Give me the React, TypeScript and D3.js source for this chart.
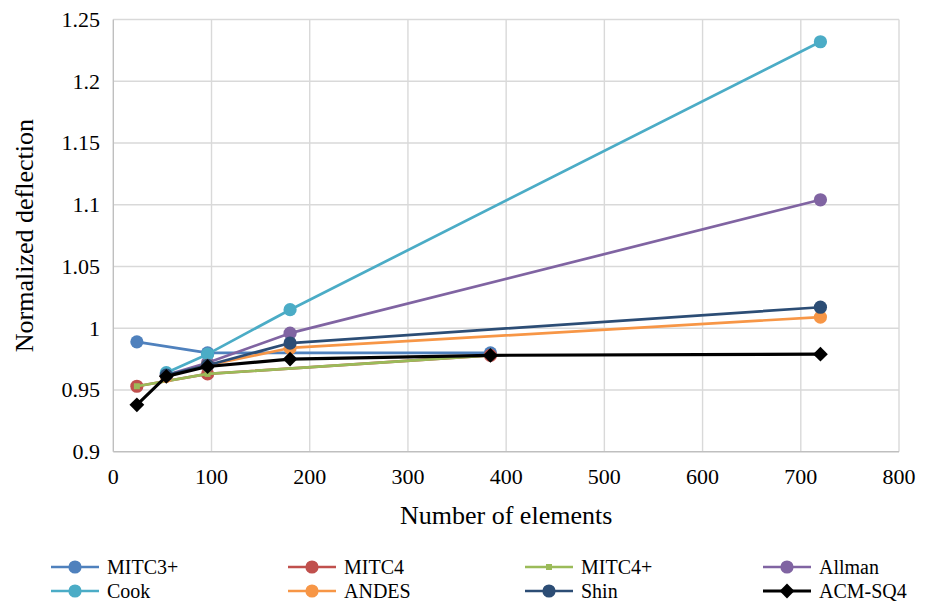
import React from "react";
import * as d3 from "d3";

const xTicks = [0, 100, 200, 300, 400, 500, 600, 700, 800];
const yTicks = [0.9, 0.95, 1, 1.05, 1.1, 1.15, 1.2, 1.25];
const yTickLabels = ["0.9", "0.95", "1", "1.05", "1.1", "1.15", "1.2", "1.25"];

const seriesNames = ["MITC3+", "MITC4", "MITC4+", "Allman", "Cook", "ANDES", "Shin", "ACM-SQ4"];
const seriesColors = ["#4F81BD", "#C0504D", "#9BBB59", "#8064A2", "#4BACC6", "#F79646", "#2C4D75", "#000000"];
const seriesMarkers = ["circle", "circle", "square", "circle", "circle", "circle", "circle", "diamond"];

const mitc3pX = [24, 96, 384];
const mitc3pY = [0.989, 0.98, 0.98];
const mitc4X = [24, 96, 384];
const mitc4Y = [0.953, 0.963, 0.978];
const mitc4pX = [24, 96, 384];
const mitc4pY = [0.953, 0.963, 0.978];
const allmanX = [54, 96, 180, 720];
const allmanY = [0.962, 0.972, 0.996, 1.104];
const cookX = [54, 96, 180, 720];
const cookY = [0.964, 0.979, 1.015, 1.232];
const andesX = [54, 96, 180, 720];
const andesY = [0.961, 0.97, 0.984, 1.009];
const shinX = [54, 96, 180, 720];
const shinY = [0.962, 0.97, 0.988, 1.017];
const acmX = [24, 54, 96, 180, 384, 720];
const acmY = [0.938, 0.961, 0.969, 0.975, 0.978, 0.979];

const seriesX = [mitc3pX, mitc4X, mitc4pX, allmanX, cookX, andesX, shinX, acmX];
const seriesY = [mitc3pY, mitc4Y, mitc4pY, allmanY, cookY, andesY, shinY, acmY];

const W = 932;
const H = 604;
const left = 113.3;
const right = 899;
const top = 19.5;
const bottom = 451.7;
const FONT = "Liberation Serif, Times New Roman, DejaVu Serif, serif";

function Marker({ type, x, y, color }: { type: string; x: number; y: number; color: string }) {
  if (type === "circle") return <circle cx={x} cy={y} r={6.6} fill={color} />;
  if (type === "square") return <rect x={x - 3} y={y - 3} width={6} height={6} fill={color} />;
  const s = 7.4;
  return <path d={`M${x},${y - s}L${x + s},${y}L${x},${y + s}L${x - s},${y}Z`} fill={color} />;
}

export default function App() {
  const xScale = d3.scaleLinear().domain([0, 800]).range([left, right]);
  const yScale = d3.scaleLinear().domain([0.9, 1.25]).range([bottom, top]);
  const line = d3
    .line<[number, number]>()
    .x((d) => xScale(d[0]))
    .y((d) => yScale(d[1]));

  const legendColX = [51, 288, 525, 763];
  const legendRowY = [567, 591];
  const ts = { fontFamily: FONT };

  return (
    <svg
      width={W}
      height={H}
      style={{ position: "absolute", left: 0, top: 0, background: "#fff", fontFamily: FONT }}
    >
      <rect x={0} y={0} width={W} height={H} fill="#fff" />
      {xTicks.slice(1).map((t) => (
        <line key={"gx" + t} x1={xScale(t)} x2={xScale(t)} y1={top} y2={bottom} stroke="#d9d9d9" strokeWidth={1.4} />
      ))}
      {yTicks.slice(1).map((t) => (
        <line key={"gy" + t} x1={left} x2={right} y1={yScale(t)} y2={yScale(t)} stroke="#d9d9d9" strokeWidth={1.4} />
      ))}
      <line x1={left} x2={left} y1={top} y2={bottom} stroke="#bfbfbf" strokeWidth={1.4} />
      <line x1={left} x2={right} y1={bottom} y2={bottom} stroke="#bfbfbf" strokeWidth={1.4} />
      {yTicks.map((t, i) => (
        <text key={"yl" + t} x={100} y={yScale(t) + 7.5} textAnchor="end" fontSize={22} fill="#000" style={ts}>
          {yTickLabels[i]}
        </text>
      ))}
      {xTicks.map((t) => (
        <text key={"xl" + t} x={xScale(t)} y={484} textAnchor="middle" fontSize={22} fill="#000" style={ts}>
          {t}
        </text>
      ))}
      <text x={(left + right) / 2} y={524} textAnchor="middle" fontSize={26} fill="#000" style={ts}>
        Number of elements
      </text>
      <text transform={`translate(33,${(top + bottom) / 2}) rotate(-90)`} textAnchor="middle" fontSize={26} fill="#000" style={ts}>
        Normalized deflection
      </text>
      {seriesNames.map((name, si) => {
        const pts: [number, number][] = seriesX[si].map((x, j) => [x, seriesY[si][j]]);
        return (
          <g key={name}>
            <path d={line(pts) || ""} fill="none" stroke={seriesColors[si]} strokeWidth={si === 7 ? 3.1 : 2.7} strokeLinejoin="round" />
            {pts.map((p, j) => (
              <Marker key={j} type={seriesMarkers[si]} x={xScale(p[0])} y={yScale(p[1])} color={seriesColors[si]} />
            ))}
          </g>
        );
      })}
      {seriesNames.map((name, si) => {
        const cx = legendColX[si % 4];
        const cy = legendRowY[Math.floor(si / 4)];
        return (
          <g key={"lg" + name}>
            <line x1={cx} x2={cx + 48} y1={cy} y2={cy} stroke={seriesColors[si]} strokeWidth={si === 7 ? 3.1 : 2.7} />
            <Marker type={seriesMarkers[si]} x={cx + 24} y={cy} color={seriesColors[si]} />
            <text x={cx + 56} y={cy + 7} fontSize={20} fill="#000" style={ts}>
              {name}
            </text>
          </g>
        );
      })}
    </svg>
  );
}
